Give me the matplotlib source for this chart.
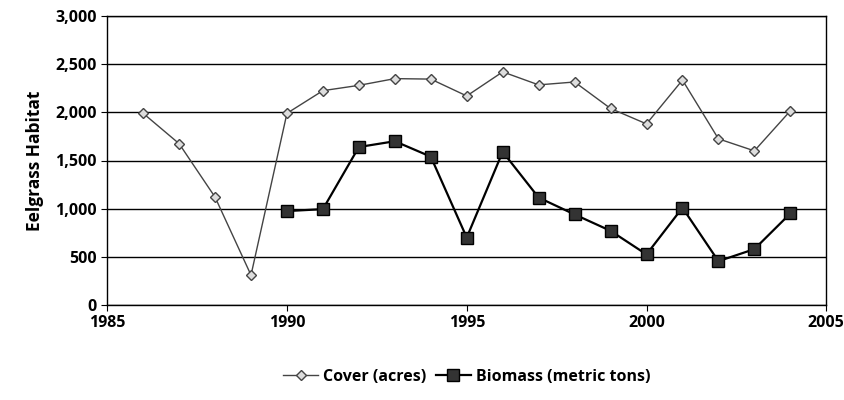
import numpy as np
import matplotlib as mpl
mpl.use('Agg')
import matplotlib.pyplot as plt
from matplotlib.ticker import FuncFormatter

years_cover = [1986, 1987, 1988, 1989, 1990, 1991, 1992, 1993, 1994, 1995,
               1996, 1997, 1998, 1999, 2000, 2001, 2002, 2003, 2004]
cover = [1990, 1675, 1120, 310, 1990, 2225, 2280, 2350, 2345, 2170,
         2420, 2285, 2315, 2040, 1880, 2335, 1725, 1600, 2015]

years_bio = [1990, 1991, 1992, 1993, 1994, 1995, 1996, 1997, 1998, 1999,
             2000, 2001, 2002, 2003, 2004]
biomass = [975, 995, 1640, 1700, 1540, 700, 1590, 1115, 940, 770,
           525, 1010, 455, 580, 950]

plt.rcParams['font.family'] = ['Open Sans', 'DejaVu Sans']
plt.rcParams['font.weight'] = 'bold'

fig = plt.figure(figsize=(8.44, 4.0), dpi=100)
ax = fig.add_axes([0.127, 0.2375, 0.852, 0.7225])

ax.plot(years_cover, cover, color='#444444', lw=1.0, marker='D', ms=5,
        mfc='#dddddd', mec='#444444', mew=1.0, label='Cover (acres)')
ax.plot(years_bio, biomass, color='black', lw=1.6, marker='s', ms=8,
        mfc='#333333', mec='black', mew=1.0, label='Biomass (metric tons)')

ax.set_xlim(1985, 2005)
ax.set_ylim(0, 3000)
ax.set_xticks(range(1985, 2006, 5))
ax.set_yticks(range(0, 3001, 500))
ax.yaxis.set_major_formatter(FuncFormatter(lambda v, p: '{:,.0f}'.format(v)))
ax.grid(axis='y', color='black', lw=1.0)
ax.set_axisbelow(True)
ax.tick_params(labelsize=11.5, length=4, color='black', direction='out')
for s in ax.spines.values():
    s.set_color('black')
    s.set_linewidth(1.0)
for lab in ax.get_xticklabels() + ax.get_yticklabels():
    lab.set_fontweight('bold')

ax.set_ylabel('Eelgrass Habitat', fontsize=12.5, fontweight='bold', labelpad=8)

ax.legend(loc='upper center', bbox_to_anchor=(0.5, -0.17), ncol=2, frameon=False,
          prop={'size': 11.5, 'weight': 'bold'}, handlelength=2.2, columnspacing=0.6,
          handletextpad=0.3)

plt.savefig('out.png', dpi=100)
